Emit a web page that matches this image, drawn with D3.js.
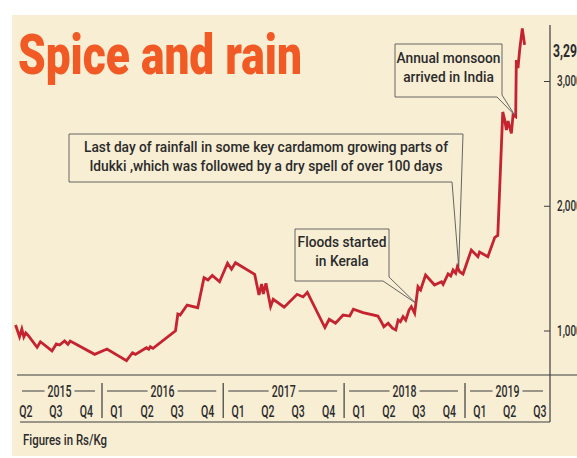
<!DOCTYPE html>
<html>
<head>
<meta charset="utf-8">
<script src="https://cdn.jsdelivr.net/npm/d3@7"></script>
<style>
body { margin: 0; background: #fff; }
text { font-family: Roboto, "Liberation Sans", sans-serif; fill: #2b2b2b; }
</style>
</head>
<body>
<svg width="577" height="458"></svg>
<script>
// cardamom price, Rs/Kg
var priceDates = [
  "2015-04-15","2015-04-27","2015-05-04","2015-05-10","2015-05-16","2015-05-22","2015-06-19","2015-06-29",
  "2015-08-03","2015-08-16","2015-08-26","2015-09-10","2015-09-20","2015-09-27","2015-12-10","2016-01-16",
  "2016-03-15","2016-04-02","2016-04-11","2016-05-14","2016-05-21","2016-05-26","2016-06-03","2016-08-10",
  "2016-08-17","2016-08-24","2016-09-14","2016-10-16","2016-11-04","2016-11-16","2016-11-29","2016-12-21",
  "2017-01-14","2017-01-26","2017-02-07","2017-04-06","2017-04-19","2017-04-27","2017-05-02","2017-05-10",
  "2017-05-24","2017-06-01","2017-07-04","2017-08-12","2017-08-30","2017-09-12","2017-11-04","2017-11-17",
  "2017-12-06","2017-12-29","2018-01-18","2018-01-29","2018-02-27","2018-04-13","2018-04-23","2018-05-01",
  "2018-05-14","2018-05-27","2018-06-06","2018-06-13","2018-06-20","2018-06-28","2018-07-06","2018-07-16",
  "2018-07-23","2018-08-02","2018-08-12","2018-08-20","2018-09-04","2018-10-01","2018-10-22","2018-10-27",
  "2018-11-11","2018-11-19","2018-11-26","2018-12-04","2018-12-09","2018-12-16","2018-12-26","2019-01-20",
  "2019-02-09","2019-02-14","2019-03-11","2019-04-01","2019-04-10","2019-04-25","2019-05-01","2019-05-06",
  "2019-05-11","2019-05-16","2019-05-21","2019-05-26","2019-06-03","2019-06-05","2019-06-10","2019-06-15",
  "2019-06-23","2019-06-30"
];
var priceValues = [
  1044, 950, 1012, 948, 980, 964, 865, 910,
  836, 892, 884, 916, 889, 916, 809, 852,
  758, 822, 809, 862, 849, 870, 857, 998,
  1132, 1124, 1204, 1183, 1423, 1405, 1442, 1391,
  1539, 1491, 1543, 1450, 1285, 1373, 1293, 1378,
  1192, 1250, 1187, 1290, 1269, 1306, 1024, 1090,
  1058, 1124, 1116, 1171, 1144, 1116, 1071, 1030,
  1058, 1018, 1004, 1084, 1071, 1111, 1084, 1164,
  1191, 1138, 1351, 1325, 1445, 1365, 1391, 1370,
  1453, 1437, 1485, 1459, 1511, 1471, 1453, 1645,
  1592, 1629, 1592, 1747, 1762, 2752, 2687, 2607,
  2679, 2631, 2581, 2727, 2714, 3168, 3104, 3248,
  3422, 3290
];
var yTicks = [1000, 2000, 3000];
var years = [2015, 2016, 2017, 2018, 2019];
var quarterLabels = ["Q2","Q3","Q4","Q1","Q2","Q3","Q4","Q1","Q2","Q3","Q4","Q1","Q2","Q3","Q4","Q1","Q2","Q3"];
var quarterStarts = ["2015-04-01","2015-07-01","2015-10-01","2016-01-01","2016-04-01","2016-07-01","2016-10-01",
  "2017-01-01","2017-04-01","2017-07-01","2017-10-01","2018-01-01","2018-04-01","2018-07-01","2018-10-01",
  "2019-01-01","2019-04-01","2019-07-01"];
var notes = [
  { lines: ["Annual monsoon", "arrived in India"], date: "2019-05-31", value: 2727 },
  { lines: ["Last day of rainfall in some key cardamom growing parts of", "Idukki ,which was followed by a dry spell of over 100 days"], date: "2018-12-13", value: 1509 },
  { lines: ["Floods started", "in Kerala"], date: "2018-08-05", value: 1220 }
];

var parse = d3.timeParse("%Y-%m-%d");
var data = priceDates.map(function(d, i) { return { date: parse(d), value: priceValues[i] }; });

var svg = d3.select("svg");
var left = 17, axisX = 550, baseY = 375, boxBottom = 422;
var cream = "#f7eed4", ink = "#3d3d3d";

// squeeze text horizontally, the original uses a condensed face
function condense(sel, k) {
  sel.each(function() {
    var w = this.getComputedTextLength();
    d3.select(this).attr("textLength", w * k).attr("lengthAdjust", "spacingAndGlyphs");
  });
}
function widthOf(str, size, weight) {
  var t = svg.append("text").text(str).style("font-size", size + "px").style("font-weight", weight);
  var w = t.node().getComputedTextLength();
  t.remove();
  return w;
}

var x = d3.scaleTime()
  .domain([new Date(2016, 0, 1), new Date(2019, 0, 1)])
  .range([102, 465]);
var y = d3.scaleLinear()
  .domain([1000, 3000])
  .range([330.5, 81]);

var kAxis = 24 / widthOf("2015", 16.5, 500);
var kNote = 364 / widthOf(notes[1].lines[0], 15.5, 500);

// background panel
svg.append("rect").attr("x", 12).attr("y", 15).attr("width", 565).attr("height", 441)
  .attr("fill", cream);

// title
svg.append("text").attr("x", 18).attr("y", 74)
  .text("Spice and rain")
  .attr("textLength", 284).attr("lengthAdjust", "spacingAndGlyphs")
  .style("font-size", "56px").style("font-weight", 900).style("fill", "#f15a24");

// right axis
svg.append("line").attr("x1", axisX).attr("x2", axisX).attr("y1", 25).attr("y2", boxBottom)
  .attr("stroke", ink).attr("stroke-width", 1.2);
var yAxis = svg.append("g").attr("transform", "translate(" + axisX + ",0)")
  .call(d3.axisRight(y).tickValues(yTicks).tickSize(-6).tickPadding(7).tickFormat(d3.format(",")));
yAxis.select(".domain").remove();
yAxis.selectAll("line").attr("stroke", ink);
yAxis.selectAll("text").attr("font-family", null).attr("font-size", null)
  .style("font-size", "15.5px").style("font-weight", 500).style("fill", "#2b2b2b")
  .call(condense, kAxis);

var last = data[data.length - 1];
svg.append("text").attr("x", 553).attr("y", y(last.value) + 12)
  .text(d3.format(",")(last.value))
  .style("font-size", "19px").style("font-weight", "bold")
  .call(condense, kAxis);

// bottom axis box
svg.append("line").attr("x1", left).attr("x2", 577).attr("y1", baseY).attr("y2", baseY)
  .attr("stroke", ink).attr("stroke-width", 1.2);
svg.append("line").attr("x1", 20).attr("x2", axisX).attr("y1", boxBottom).attr("y2", boxBottom)
  .attr("stroke", ink).attr("stroke-width", 1.2);

years.slice(1).forEach(function(yr) {
  var sx = x(new Date(yr, 0, 1));
  svg.append("line").attr("x1", sx).attr("x2", sx).attr("y1", 383).attr("y2", 418)
    .attr("stroke", ink).attr("stroke-width", 1.2);
});

years.forEach(function(yr) {
  var a = Math.max(left, x(new Date(yr, 0, 1)));
  var b = Math.min(axisX, x(new Date(yr + 1, 0, 1)));
  var cx = (a + b) / 2;
  var t = svg.append("text").attr("x", cx).attr("y", 396.5).attr("text-anchor", "middle")
    .text(yr).style("font-size", "16.5px").style("font-weight", 500)
    .call(condense, kAxis);
  var w = +t.attr("textLength");
  svg.append("line").attr("x1", a + 5).attr("x2", cx - w / 2 - 3).attr("y1", 391).attr("y2", 391)
    .attr("stroke", ink);
  svg.append("line").attr("x1", cx + w / 2 + 3).attr("x2", b - 7).attr("y1", 391).attr("y2", 391)
    .attr("stroke", ink);
});

svg.selectAll(".qlab").data(quarterStarts).enter().append("text")
  .attr("class", "qlab")
  .attr("x", function(d) { return x(d3.timeDay.offset(parse(d), 45)); })
  .attr("y", 417).attr("text-anchor", "middle")
  .text(function(d, i) { return quarterLabels[i]; })
  .style("font-size", "16.5px").style("font-weight", 500)
  .call(condense, kAxis);

svg.append("text").attr("x", 23).attr("y", 445).text("Figures in Rs/Kg")
  .style("font-size", "15.5px").style("font-weight", 500)
  .attr("textLength", 84).attr("lengthAdjust", "spacingAndGlyphs");

// price line
var line = d3.line()
  .x(function(d) { return x(d.date); })
  .y(function(d) { return y(d.value); });
svg.append("path").datum(data)
  .attr("d", line)
  .attr("fill", "none")
  .attr("stroke", "#c5232f")
  .attr("stroke-width", 2.8)
  .attr("stroke-linejoin", "miter");

// callouts
var boxes = [
  { x0: 395, y0: 44, x1: 502, y1: 97, b1: 497, r1: 95, ty: 63 },
  { x0: 69, y0: 134, x1: 463, y1: 182, b1: 452, r1: null, ty: 152 },
  { x0: 295, y0: 229, x1: 389, y1: 281, b1: 383, r1: 277, ty: 247 }
];
notes.forEach(function(n, i) {
  var b = boxes[i];
  var tx = x(parse(n.date)), ty = y(n.value);
  var pts = [[b.x0, b.y0], [b.x1, b.y0]];
  if (b.r1 !== null) pts.push([b.x1, b.r1]);
  pts.push([tx, ty], [b.b1, b.y1], [b.x0, b.y1]);
  svg.append("path")
    .attr("d", "M" + pts.join("L") + "Z")
    .attr("fill", cream)
    .attr("stroke", "#555")
    .attr("stroke-width", 0.9);
  n.lines.forEach(function(l, j) {
    svg.append("text").attr("x", (b.x0 + b.x1) / 2).attr("y", b.ty + j * 18.5)
      .attr("text-anchor", "middle").text(l)
      .style("font-size", "15.5px").style("font-weight", 500)
      .call(condense, kNote);
  });
});
</script>
</body>
</html>
